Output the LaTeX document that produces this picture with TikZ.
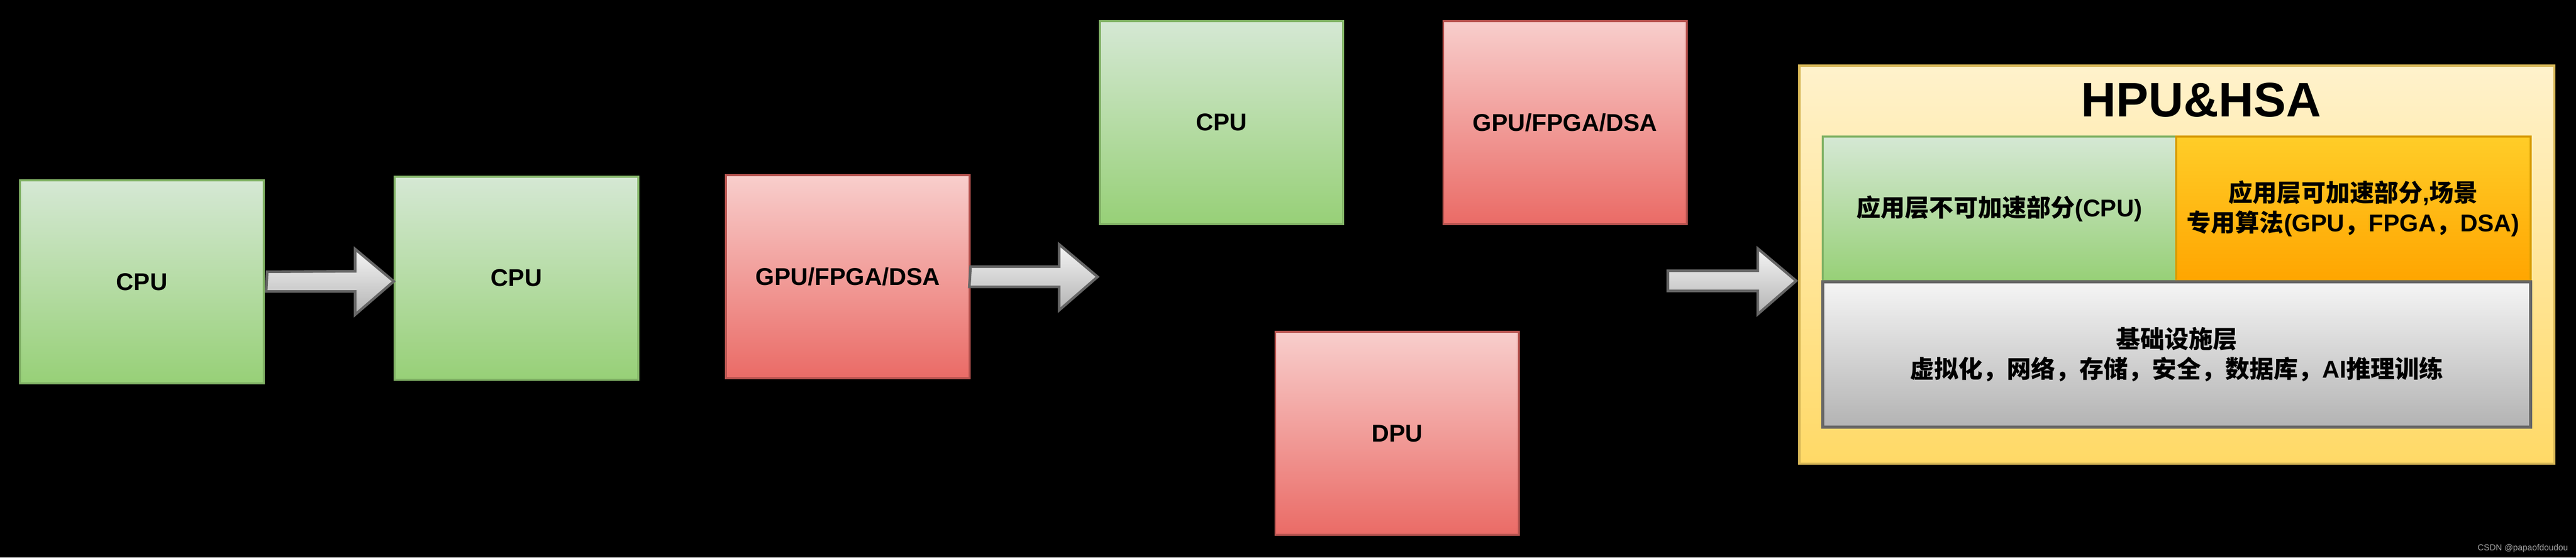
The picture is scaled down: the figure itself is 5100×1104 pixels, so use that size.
\documentclass[tikz,border=0pt]{standalone}
\usepackage{fontspec}
\setmainfont{Liberation Sans}
\newfontfamily\cjkfont{Noto Sans CJK SC}
\newcommand\zhs[1]{{\cjkfont #1}}
\usetikzlibrary{arrows.meta}
\definecolor{gfill1}{HTML}{D5E8D4}\definecolor{gfill2}{HTML}{97D077}\definecolor{gline}{HTML}{82B366}
\definecolor{rfill1}{HTML}{F8CECC}\definecolor{rfill2}{HTML}{EA6B66}\definecolor{rline}{HTML}{B85450}
\definecolor{yfill1}{HTML}{FFF2CC}\definecolor{yfill2}{HTML}{FFD966}\definecolor{yline}{HTML}{D6B656}
\definecolor{ofill1}{HTML}{FFCD28}\definecolor{ofill2}{HTML}{FFA500}\definecolor{oline}{HTML}{D79B00}
\definecolor{sfill1}{HTML}{F5F5F5}\definecolor{sfill2}{HTML}{B3B3B3}\definecolor{sline}{HTML}{666666}
\definecolor{wmark}{HTML}{A0A0A0}
\begin{document}
\begin{tikzpicture}[x=0.25pt,y=-0.25pt,
  txt/.style={font=\fontsize{12}{14.75}\selectfont\bfseries, align=center, text=black},
  greenbox/.style={txt, draw=gline, line width=1pt, top color=gfill1, bottom color=gfill2, inner sep=0pt},
  redbox/.style={txt, draw=rline, line width=1pt, top color=rfill1, bottom color=rfill2, inner sep=0pt},
  unitbox/.style={minimum width=120.5pt, minimum height=100.5pt},
  bigarrow/.style={draw=sline, line width=1.3pt, top color=sfill1, bottom color=sfill2, line join=miter},
  link/.style={draw=black, line width=1pt, {Latex[length=6pt]}-{Latex[length=6pt]}}
]
% background
\fill[black] (0,0) rectangle (5100,1104);
\useasboundingbox (0,0) rectangle (5100,1104);

% stage 1
\node[greenbox, unitbox] (cpuA) at (281,558) {CPU};
% stage 2
\node[greenbox, unitbox] (cpuB) at (1022.5,550.5) {CPU};
\node[redbox, unitbox] (gpuB) at (1678.5,548) {GPU/FPGA/DSA};
% stage 3
\node[greenbox, unitbox] (cpuC) at (2418.5,242.5) {CPU};
\node[redbox, unitbox] (gpuC) at (3098.5,242.5) {GPU/FPGA/DSA};
\node[redbox, unitbox] (dpuC) at (2766,858) {DPU};

% invisible (black) links among stage 3 boxes
\draw[link] (cpuC.east) -- (gpuC.west);
\draw[link] (cpuC.south) -- (dpuC.north);
\draw[link] (gpuC.south) -- (dpuC.north);

% stage 4: HPU & HSA container
\node[draw=yline, line width=1.2pt, top color=yfill1, bottom color=yfill2,
      minimum width=373.75pt, minimum height=197pt, inner sep=0pt] (hpu) at (4309.5,524) {};
\node[txt, font=\fontsize{24}{28}\selectfont\bfseries] (title) at (4358,198) {HPU\&HSA};
\node[greenbox, minimum width=174.75pt, minimum height=71.5pt] (app1) at (3958.5,413)
  {\zhs{应用层不可加速部分}(CPU)};
\node[txt, draw=oline, line width=1pt, top color=ofill1, bottom color=ofill2, inner sep=0pt,
      minimum width=175.5pt, minimum height=71.5pt] (app2) at (4659,413)
  {\zhs{应用层可加速部分},\zhs{场景}\\\zhs{专用算法}(GPU\zhs{，}FPGA\zhs{，}DSA)};
\node[txt, draw=sline, line width=1.5pt, top color=sfill1, bottom color=sfill2, inner sep=0pt,
      minimum width=350.25pt, minimum height=72pt] (infra) at (4309.5,702)
  {\zhs{基础设施层}\\\zhs{虚拟化，网络，存储，安全，数据库，}AI\zhs{推理训练}};

% big block arrows
\path (cpuA.east) ++(5,0) coordinate (a1s);
\draw[bigarrow] (a1s) ++(0,-20) -- (703,537) -- (703,493) -- (cpuB.west |- 0,557) coordinate (a1t)
   -- (703,623) -- (703,577) -- (527,577) -- cycle;
\draw[bigarrow] (gpuB.east) ++(0,-20) -- (2097,528) -- (2097,484) -- (2173,548) coordinate (a2t)
   -- (2097,614) -- (2097,568) -- (1919,568) -- cycle;
\draw[bigarrow] (3302,536) -- (3480,536) -- (3480,492) -- (3556,556) coordinate (a3t)
   -- (3480,622) -- (3480,576) -- (3302,576) -- cycle;

% watermark
\node[font=\fontsize{4.25}{5}\selectfont, text=wmark, anchor=east, inner sep=0pt] (wm) at (5085,1085)
  {CSDN @papaofdoudou};
\end{tikzpicture}
\end{document}
